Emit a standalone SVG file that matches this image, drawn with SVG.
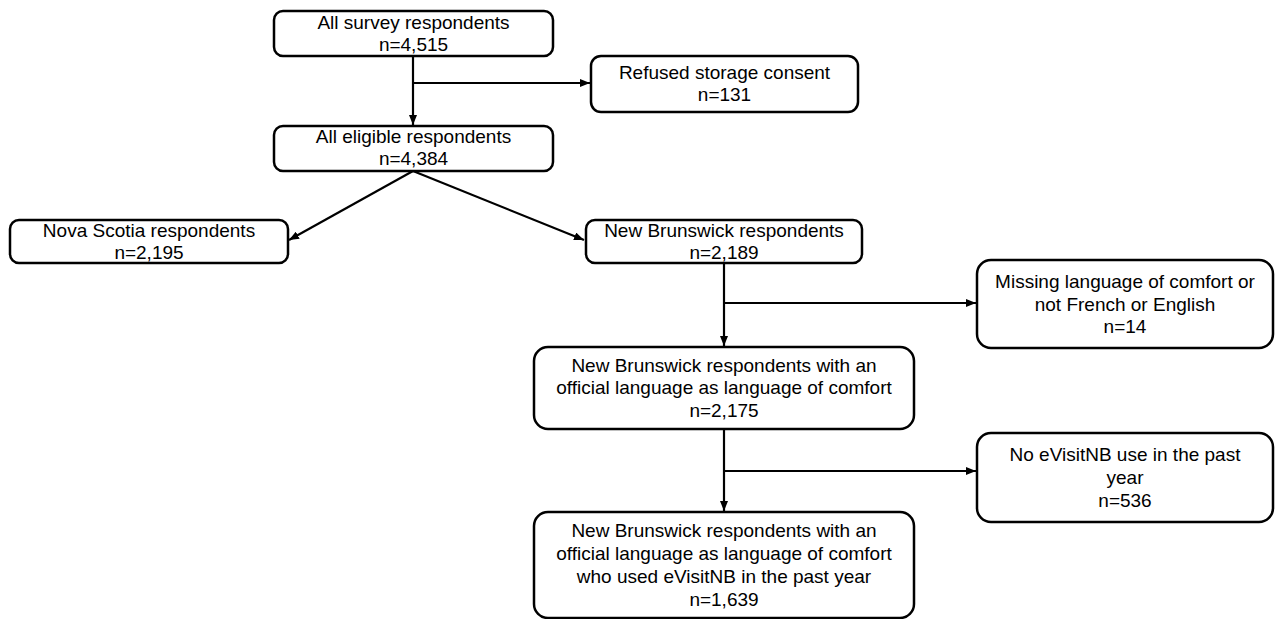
<svg xmlns="http://www.w3.org/2000/svg" width="1276" height="619" viewBox="0 0 1276 619">
<style>
.box{fill:#fff;stroke:#000;stroke-width:2.5}
.t{font-family:"Liberation Sans",Arial,sans-serif;font-size:19px;fill:#000;text-anchor:middle}
.c{fill:none;stroke:#000;stroke-width:2.2}
</style>
<defs>
<marker id="ah" markerWidth="10" markerHeight="8" refX="10" refY="4" orient="auto" markerUnits="userSpaceOnUse">
<path d="M0,0 L10,4 L0,8 Z" fill="#000"/>
</marker>
</defs>
<rect width="1276" height="619" fill="#fff"/>
<g id="connectors">
<path class="c" d="M413,56 V125" marker-end="url(#ah)"/>
<path class="c" d="M413,83 H590" marker-end="url(#ah)"/>
<path class="c" d="M413,171 L289,240" marker-end="url(#ah)"/>
<path class="c" d="M413,171 L584,240" marker-end="url(#ah)"/>
<path class="c" d="M724,263 V346" marker-end="url(#ah)"/>
<path class="c" d="M724,303 H976" marker-end="url(#ah)"/>
<path class="c" d="M724,429 V511" marker-end="url(#ah)"/>
<path class="c" d="M724,471 H976" marker-end="url(#ah)"/>
</g>
<g id="n1"><rect class="box" x="274" y="11" width="279" height="45" rx="9"/>
<text class="t" x="413.5" y="29">All survey respondents</text><text class="t" x="413.5" y="51">n=4,515</text></g>
<g id="n2"><rect class="box" x="591" y="56" width="267" height="56" rx="10"/>
<text class="t" x="724.5" y="79">Refused storage consent</text><text class="t" x="724.5" y="101">n=131</text></g>
<g id="n3"><rect class="box" x="274" y="126" width="279" height="45" rx="9"/>
<text class="t" x="413.5" y="143">All eligible respondents</text><text class="t" x="413.5" y="165">n=4,384</text></g>
<g id="n4"><rect class="box" x="10" y="220" width="278" height="43" rx="9"/>
<text class="t" x="149" y="237">Nova Scotia respondents</text><text class="t" x="149" y="259">n=2,195</text></g>
<g id="n5"><rect class="box" x="586" y="220" width="276" height="43" rx="9"/>
<text class="t" x="724" y="237">New Brunswick respondents</text><text class="t" x="724" y="259">n=2,189</text></g>
<g id="n6"><rect class="box" x="977" y="260" width="296" height="88" rx="14"/>
<text class="t" x="1125" y="288">Missing language of comfort or</text><text class="t" x="1125" y="311">not French or English</text><text class="t" x="1125" y="333">n=14</text></g>
<g id="n7"><rect class="box" x="534" y="347" width="380" height="82" rx="14"/>
<text class="t" x="724" y="372">New Brunswick respondents with an</text><text class="t" x="724" y="394">official language as language of comfort</text><text class="t" x="724" y="417">n=2,175</text></g>
<g id="n8"><rect class="box" x="977" y="433" width="296" height="89" rx="14"/>
<text class="t" x="1125" y="461">No eVisitNB use in the past</text><text class="t" x="1125" y="484">year</text><text class="t" x="1125" y="507">n=536</text></g>
<g id="n9"><rect class="box" x="534" y="512" width="380" height="106" rx="14"/>
<text class="t" x="724" y="537">New Brunswick respondents with an</text><text class="t" x="724" y="560">official language as language of comfort</text><text class="t" x="724" y="583">who used eVisitNB in the past year</text><text class="t" x="724" y="606">n=1,639</text></g>
</svg>
